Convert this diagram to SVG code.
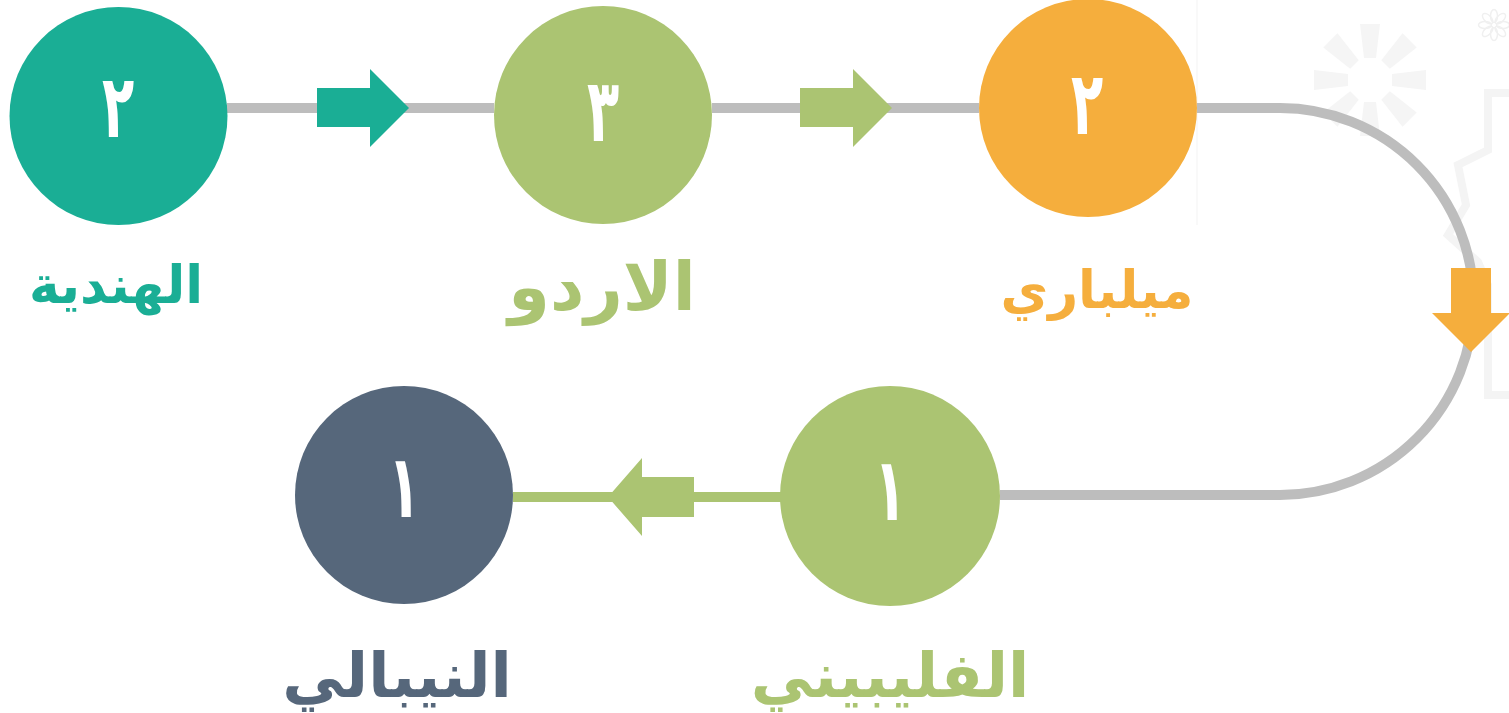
<svg xmlns="http://www.w3.org/2000/svg" width="1509" height="713" viewBox="0 0 1509 713">
<style>
.num{font-family:"DejaVu Sans",sans-serif;font-weight:bold;fill:#ffffff;text-anchor:middle;font-size:88px}
.lbl{font-family:"DejaVu Sans",sans-serif;font-weight:bold;text-anchor:middle;direction:rtl}
.line{stroke:#bdbdbd;stroke-width:10;fill:none}
.deco{fill:#f5f5f5}
.decoS{fill:none;stroke:#f4f4f4;stroke-width:8}
</style>
<defs>
<polygon id="petal" points="-6,-22 6,-22 10,-56 -10,-56"/>
</defs>
<rect width="1509" height="713" fill="#ffffff"/>
<g id="decoration">
<g class="deco" transform="translate(1370,80)">
<use href="#petal"/>
<use href="#petal" transform="rotate(45)"/>
<use href="#petal" transform="rotate(90)"/>
<use href="#petal" transform="rotate(135)"/>
<use href="#petal" transform="rotate(180)"/>
<use href="#petal" transform="rotate(225)"/>
<use href="#petal" transform="rotate(270)"/>
<use href="#petal" transform="rotate(315)"/>
</g>
<g fill="none" stroke="#f0f0f0" stroke-width="1.5" transform="translate(1494,25)">
<ellipse cx="0" cy="-9" rx="3.5" ry="6.5"/>
<ellipse cx="0" cy="-9" rx="3.5" ry="6.5" transform="rotate(45)"/>
<ellipse cx="0" cy="-9" rx="3.5" ry="6.5" transform="rotate(90)"/>
<ellipse cx="0" cy="-9" rx="3.5" ry="6.5" transform="rotate(135)"/>
<ellipse cx="0" cy="-9" rx="3.5" ry="6.5" transform="rotate(180)"/>
<ellipse cx="0" cy="-9" rx="3.5" ry="6.5" transform="rotate(225)"/>
<ellipse cx="0" cy="-9" rx="3.5" ry="6.5" transform="rotate(270)"/>
<ellipse cx="0" cy="-9" rx="3.5" ry="6.5" transform="rotate(315)"/>
</g>
<path class="decoS" d="M1509,93 L1488,93 L1488,150 L1458,165 L1466,205 L1448,235 L1478,262 L1488,285 L1488,395 L1509,395"/>
<line x1="1197" y1="0" x2="1197" y2="225" stroke="#f3f3f3" stroke-width="1"/>
</g>
<g id="connectors">
<line class="line" x1="227" y1="108" x2="494" y2="108"/>
<line class="line" x1="712" y1="108" x2="979" y2="108"/>
<path class="line" d="M1197,108 L1280,108 A193.5,193.5 0 0 1 1280,495 L1000,495"/>
<line x1="513" y1="497" x2="781" y2="497" stroke="#abc472" stroke-width="10"/>
<polygon fill="#1aae95" points="317,88 370,88 370,69 409,108 370,147 370,127 317,127"/>
<polygon fill="#abc472" points="800,88 853,88 853,69 892,108 853,147 853,127 800,127"/>
<polygon fill="#f5ae3d" points="1451,268 1491,268 1491,313 1510,313 1471,352 1432,313 1451,313"/>
<polygon fill="#abc472" points="694,477 642,477 642,458 608,497 642,536 642,517 694,517"/>
</g>
<g id="node-hindi">
<circle cx="118.5" cy="116" r="109" fill="#1aae95"/>
<text class="num" transform="translate(118,137) scale(0.6,1)">٢</text>
<text class="lbl" x="116" y="303" font-size="52" fill="#1aae95">الهندية</text>
</g>
<g id="node-urdu">
<circle cx="603" cy="115" r="109" fill="#abc472"/>
<text class="num" transform="translate(603,141) scale(0.6,1)">٣</text>
<text class="lbl" x="602" y="310" font-size="67" fill="#abc472">الاردو</text>
</g>
<g id="node-malibari">
<circle cx="1088" cy="108" r="109" fill="#f5ae3d"/>
<text class="num" transform="translate(1087,134) scale(0.6,1)">٢</text>
<text class="lbl" x="1097" y="308" font-size="52" fill="#f5ae3d">ميلباري</text>
</g>
<g id="node-filipino">
<circle cx="890" cy="496" r="110" fill="#abc472"/>
<text class="num" transform="translate(890,520) scale(0.6,1)">١</text>
<text class="lbl" x="890" y="697" font-size="62" fill="#abc472">الفليبيني</text>
</g>
<g id="node-nepali">
<circle cx="404" cy="495" r="109" fill="#56677b"/>
<text class="num" transform="translate(404,517) scale(0.6,1)">١</text>
<text class="lbl" x="397" y="697" font-size="62" fill="#56677b">النيبالي</text>
</g>
</svg>
